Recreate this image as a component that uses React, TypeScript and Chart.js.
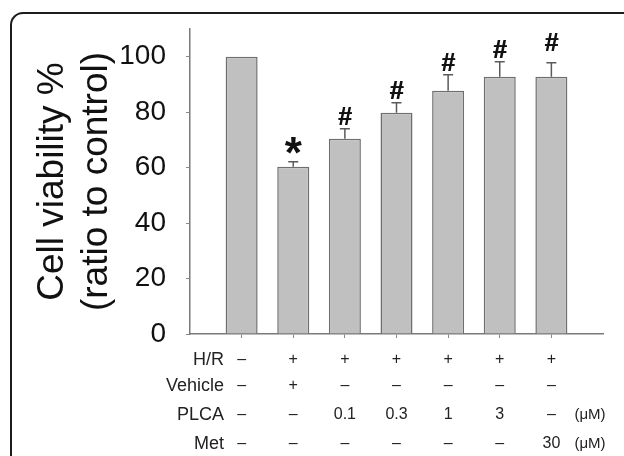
import React, { useEffect, useRef } from 'react';
import { Chart, registerables } from 'chart.js';

Chart.register(...registerables);

// ---- data ----
const positions = [1, 2, 3, 4, 5, 6, 7];
const viability = [100, 60.3, 70.4, 79.8, 87.7, 92.8, 92.8];
const errUp = [0, 1.8, 3.6, 3.6, 5.8, 5.4, 5.0];
const sigMarks = ['', '*', '#', '#', '#', '#', '#'];
const sigMarkY = [0, 67.9, 78.7, 88.1, 98.2, 102.9, 105.4];
const yTicks = [0, 20, 40, 60, 80, 100];
const rowLabels = ['H/R', 'Vehicle', 'PLCA', 'Met'];
const hrRow = ['–', '+', '+', '+', '+', '+', '+'];
const vehicleRow = ['–', '+', '–', '–', '–', '–', '–'];
const plcaRow = ['–', '–', '0.1', '0.3', '1', '3', '–'];
const metRow = ['–', '–', '–', '–', '–', '–', '30'];
const rowUnits = ['', '', '(μM)', '(μM)'];
const yTitle = ['Cell viability %', '(ratio to control)'];

const FONT = "'Liberation Sans', Arial, sans-serif";

export default function App() {
  const ref = useRef<HTMLCanvasElement | null>(null);

  useEffect(() => {
    const canvas = ref.current;
    if (!canvas) return;

    const framePlugin = {
      id: 'frame',
      beforeDraw(chart: any) {
        const ctx = chart.ctx;
        ctx.save();
        ctx.fillStyle = '#ffffff';
        ctx.fillRect(0, 0, chart.width, chart.height);
        ctx.strokeStyle = '#1c1c1c';
        ctx.lineWidth = 2;
        ctx.beginPath();
        (ctx as any).roundRect(11, 13, 800, 600, 12);
        ctx.stroke();
        ctx.restore();
      },
    };

    const errPlugin = {
      id: 'errbars',
      afterDatasetsDraw(chart: any) {
        const ctx = chart.ctx;
        const meta = chart.getDatasetMeta(0);
        const ys = chart.scales.y;
        ctx.save();
        ctx.strokeStyle = '#5a5a5a';
        ctx.lineWidth = 1.5;
        meta.data.forEach((bar: any, i: number) => {
          if (!errUp[i]) return;
          const x = bar.x;
          const yTop = bar.y;
          const yCap = ys.getPixelForValue(viability[i] + errUp[i]);
          ctx.beginPath();
          ctx.moveTo(x, yTop);
          ctx.lineTo(x, yCap);
          ctx.moveTo(x - 5, yCap);
          ctx.lineTo(x + 5, yCap);
          ctx.stroke();
        });
        // significance marks
        ctx.fillStyle = '#111';
        ctx.textAlign = 'center';
        ctx.textBaseline = 'alphabetic';
        meta.data.forEach((bar: any, i: number) => {
          const m = sigMarks[i];
          if (!m) return;
          ctx.font = m === '*' ? `bold 44px ${FONT}` : `bold 25px ${FONT}`;
          const tm = ctx.measureText(m);
          const cy = ys.getPixelForValue(sigMarkY[i]);
          const base = cy + (tm.actualBoundingBoxAscent - tm.actualBoundingBoxDescent) / 2;
          ctx.fillText(m, bar.x, base);
          if (m === '#') {
            ctx.fillText(m, bar.x + 0.6, base);
          }
        });
        ctx.restore();
      },
    };

    const tablePlugin = {
      id: 'table',
      afterDraw(chart: any) {
        const ctx = chart.ctx;
        const xs = chart.scales.x;
        const rowsY = [360, 386, 415, 444];
        const rows = [hrRow, vehicleRow, plcaRow, metRow];
        ctx.save();
        ctx.fillStyle = '#222';
        ctx.textBaseline = 'middle';
        rowLabels.forEach((lab, r) => {
          ctx.font = `18px ${FONT}`;
          ctx.textAlign = 'right';
          ctx.fillText(lab, 224, rowsY[r]);
          ctx.textAlign = 'center';
          rows[r].forEach((v, i) => {
            ctx.font = `16px ${FONT}`;
            ctx.fillText(v, xs.getPixelForValue(positions[i]), rowsY[r]);
          });
          if (rowUnits[r]) {
            ctx.font = `15px ${FONT}`;
            ctx.fillText(rowUnits[r], 590, rowsY[r]);
          }
        });
        ctx.restore();
      },
    };

    const chart = new Chart(canvas, {
      type: 'bar',
      data: {
        datasets: [
          {
            data: positions.map((p, i) => ({ x: p, y: viability[i] })),
            backgroundColor: '#c0c0c0',
            borderColor: '#6e6e6e',
            borderWidth: 1.5,
            barPercentage: 0.62,
            categoryPercentage: 1,
          },
        ],
      },
      options: {
        responsive: false,
        animation: false,
        devicePixelRatio: 1,
        layout: { padding: { left: 0, top: 29, right: 21, bottom: 0 } },
        plugins: {
          legend: { display: false },
          tooltip: { enabled: false },
        },
        scales: {
          x: {
            type: 'linear',
            min: 0,
            max: 8,
            offset: false,
            grid: {
              offset: false,
              drawOnChartArea: false,
              drawTicks: true,
              tickLength: 4,
              color: '#8a8a8a',
            },
            border: { display: true, color: '#7a7a7a', width: 1.5 },
            ticks: { callback: () => '' },
            afterBuildTicks: (scale: any) => {
              scale.ticks = positions.map((v) => ({ value: v }));
            },
            afterFit: (scale: any) => {
              scale.height = 122;
              scale.paddingLeft = 0;
              scale.paddingRight = 0;
            },
          },
          y: {
            type: 'linear',
            min: 0,
            max: 110,
            grid: {
              drawOnChartArea: false,
              drawTicks: true,
              tickLength: 4,
              color: '#8a8a8a',
            },
            border: { display: true, color: '#7a7a7a', width: 1.5 },
            ticks: {
              padding: 20,
              color: '#111',
              font: { family: FONT, size: 28 },
            },
            afterBuildTicks: (scale: any) => {
              scale.ticks = yTicks.map((v) => ({ value: v }));
            },
            afterFit: (scale: any) => {
              scale.width = 190;
              scale.paddingTop = 0;
              scale.paddingBottom = 0;
            },
            title: {
              display: true,
              text: yTitle,
              color: '#111',
              font: { family: FONT, size: 37, lineHeight: 44 / 37 },
              padding: { top: 31, bottom: 0 },
            },
          },
        },
      } as any,
      plugins: [framePlugin, errPlugin, tablePlugin],
    });

    return () => chart.destroy();
  }, []);

  return (
    <div style={{ position: 'fixed', left: 0, top: 0, width: 624, height: 456, overflow: 'hidden' }}>
      <canvas ref={ref} width={624} height={456} style={{ width: 624, height: 456, display: 'block' }} />
    </div>
  );
}
